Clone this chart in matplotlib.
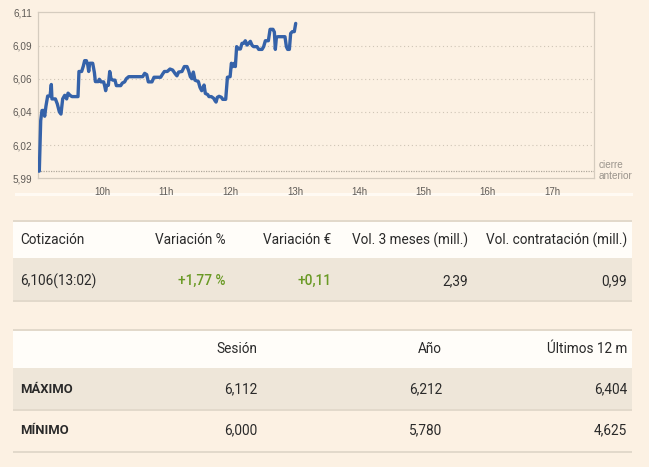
import matplotlib
matplotlib.use("Agg")
import matplotlib.pyplot as plt
from matplotlib.patches import Rectangle

# ---------------- data ----------------
minutes = [0.6, 1.5, 2.8, 4.0, 5.6, 6.5, 7.7, 9.3, 11.5, 12.7, 13.3, 16.5, 18.3, 20.2, 21.7,
           23.3, 25.2, 27.0, 28.3, 30.1, 32.0, 37.6, 38.5, 41.0, 42.6, 43.8, 45.4, 46.7, 47.6,
           48.5, 51.3, 52.9, 53.8, 56.6, 57.5, 59.0, 61.5, 62.5, 63.4, 64.3, 65.9, 67.2, 68.4,
           70.0, 72.1, 73.4, 77.4, 79.0, 81.1, 82.7, 84.9, 97.9, 99.8, 101.7, 103.2, 106.6,
           108.5, 114.7, 116.6, 118.2, 120.9, 123.4, 125.9, 128.4, 129.9, 131.5, 134.6, 136.8,
           139.3, 140.8, 142.4, 143.9, 145.2, 146.7, 149.9, 151.4, 153.0, 155.2, 156.4, 158.6,
           159.8, 162.0, 164.2, 165.4, 166.4, 167.6, 169.2, 171.4, 172.6, 175.4, 177.0, 179.5,
           180.7, 181.9, 183.5, 184.4, 185.6, 187.5, 189.1, 190.6, 192.2, 193.7, 195.3, 196.8,
           198.4, 200.0, 201.5, 204.6, 206.2, 209.3, 210.8, 212.4, 215.2, 216.8, 219.5, 220.8,
           221.7, 222.7, 224.2, 230.7, 232.0, 233.2, 234.8, 236.0, 237.6, 239.4, 240.7]
prices = [6.000, 6.000, 6.035, 6.042, 6.042, 6.038, 6.045, 6.052, 6.052, 6.060, 6.050, 6.050,
          6.0465, 6.041, 6.0395, 6.050, 6.0525, 6.050, 6.054, 6.0525, 6.0516, 6.0516, 6.069,
          6.069, 6.0728, 6.0765, 6.0765, 6.0736, 6.069, 6.0747, 6.0747, 6.0682, 6.062, 6.062,
          6.0636, 6.0618, 6.0618, 6.059, 6.0557, 6.0594, 6.0594, 6.069, 6.064, 6.063, 6.063,
          6.0592, 6.0592, 6.061, 6.0618, 6.064, 6.0654, 6.0654, 6.0677, 6.0668, 6.0618, 6.0618,
          6.065, 6.065, 6.0673, 6.069, 6.069, 6.0707, 6.070, 6.0673, 6.066, 6.0686, 6.069,
          6.0724, 6.0724, 6.0696, 6.0654, 6.064, 6.0686, 6.063, 6.062, 6.058, 6.0557, 6.0596,
          6.0538, 6.053, 6.0516, 6.0516, 6.0504, 6.0488, 6.0478, 6.0511, 6.0518, 6.0511, 6.0497,
          6.0497, 6.065, 6.0654, 6.0747, 6.0724, 6.0747, 6.0724, 6.0862, 6.0846, 6.0846, 6.0885,
          6.0885, 6.0903, 6.0873, 6.0885, 6.0899, 6.0871, 6.0862, 6.0862, 6.0843, 6.0843,
          6.0862, 6.0903, 6.0903, 6.0982, 6.0982, 6.0963, 6.0843, 6.0927, 6.0931, 6.0931,
          6.0862, 6.0843, 6.0843, 6.0954, 6.0966, 6.0966, 6.1023]
prev_close = 6.000
y_ticks = [5.995, 6.018, 6.041, 6.064, 6.087, 6.110]
y_tick_labels = ["5,99", "6,02", "6,04", "6,06", "6,09", "6,11"]
x_ticks = [60, 120, 180, 240, 300, 360, 420, 480]
x_tick_labels = ["10h", "11h", "12h", "13h", "14h", "15h", "16h", "17h"]
x_end = 519

t1_headers = ["Cotización", "Variación %", "Variación €", "Vol. 3 meses (mill.)",
              "Vol. contratación (mill.)"]
t1_values = ["6,106(13:02)", "+1,77 %", "+0,11", "2,39", "0,99"]
t2_headers = ["", "Sesión", "Año", "Últimos 12 m"]
t2_row_labels = ["MÁXIMO", "MÍNIMO"]
t2_rows = [["6,112", "6,212", "6,404"],
           ["6,000", "5,780", "4,625"]]

# ---------------- style ----------------
W, H = 649, 467
BG = "#FCF1E3"
WHITE = "#FFFDF9"
BEIGE = "#EEE6D9"
BORDER = "#E2D9CB"
TEXT = "#2A2A2A"
GREEN = "#6A9A25"
LINE = "#3562A9"
TFONT = ["Roboto", "DejaVu Sans"]
AFONT = ["Liberation Sans", "DejaVu Sans"]

fig = plt.figure(figsize=(W / 100, H / 100), dpi=100, facecolor=BG)

# overlay axes in pixel coordinates for the tables
ov = fig.add_axes([0, 0, 1, 1], zorder=0)
ov.set_xlim(0, W)
ov.set_ylim(H, 0)
ov.axis("off")
ov.patch.set_alpha(0)

def rect(x0, y0, x1, y1, color):
    ov.add_patch(Rectangle((x0, y0), x1 - x0, y1 - y0, facecolor=color,
                           edgecolor="none", linewidth=0))

# separator under chart
rect(15, 193, 633, 195.5, "#FFFAF3")

TL, TR = 13, 632
# table 1
rect(TL, 219.5, TR, 222, BORDER)
rect(TL, 222, TR, 258, WHITE)
rect(TL, 258, TR, 300, BEIGE)
rect(TL, 300, TR, 302, BORDER)
t1_x = [20, 226, 331, 468, 627]
t1_align = ["left", "right", "right", "right", "right"]
t1_colors = [TEXT, GREEN, GREEN, TEXT, TEXT]
for i in range(len(t1_headers)):
    ov.text(t1_x[i], 240, t1_headers[i], ha=t1_align[i], va="center",
            fontsize=9.8, family=TFONT, color=TEXT)
    ov.text(t1_x[i], 281, t1_values[i], ha=t1_align[i], va="center",
            fontsize=9.8, family=TFONT, color=t1_colors[i],
            weight="medium" if t1_colors[i] == GREEN else "normal")

# table 2
rect(TL, 328.5, TR, 331, BORDER)
rect(TL, 331, TR, 368, WHITE)
rect(TL, 368, TR, 409, BEIGE)
rect(TL, 409, TR, 411, BORDER)
rect(TL, 451, TR, 453, BORDER)
t2_x = [20, 257, 442, 627]
for i, h in enumerate(t2_headers):
    if h:
        ov.text(t2_x[i], 349, h, ha="right", va="center", fontsize=9.8,
                family=TFONT, color=TEXT)
row_y = [389.5, 430]
for r, lab in enumerate(t2_row_labels):
    ov.text(t2_x[0], row_y[r], lab, ha="left", va="center", fontsize=9.4,
            family=TFONT, color=TEXT, weight="bold")
    for c, v in enumerate(t2_rows[r]):
        ov.text(t2_x[c + 1], row_y[r], v, ha="right", va="center", fontsize=9.8,
                family=TFONT, color=TEXT)

# ---------------- chart ----------------
L, R, T, B = 37.7, 594, 12.3, 178.3
ax = fig.add_axes([L / W, 1 - B / H, (R - L) / W, (B - T) / H], zorder=2)
ax.set_facecolor(BG)
ax.plot(minutes, prices, color=LINE, lw=2.4, solid_joinstyle="round",
        solid_capstyle="round", zorder=4)
ax.axhline(prev_close, color="#B0A89C", lw=0.9, ls=(0, (1, 1)), zorder=3)
ax.set_xlim(0, x_end)
ax.set_ylim(y_ticks[0], y_ticks[-1])
ax.set_yticks(y_ticks)
ax.set_yticklabels(y_tick_labels)
ax.set_xticks(x_ticks)
ax.set_xticklabels(x_tick_labels)
ax.tick_params(length=0, labelsize=7.2, colors="#5F5B57", pad=4)
ax.tick_params(axis="x", pad=6, labelsize=7.0)
for lbl in ax.get_xticklabels() + ax.get_yticklabels():
    lbl.set_family(AFONT)
for g in y_ticks[1:-1]:
    ax.axhline(g, color="#CFC5B6", lw=0.8, ls=(0, (1, 2.5)), zorder=2)
for s in ax.spines.values():
    s.set_color("#D5CCBF")
    s.set_linewidth(0.9)

ov.text(599, 164.5, "cierre", ha="left", va="center", fontsize=7.2,
        family=AFONT, color="#9A948C")
ov.text(599, 176, "anterior", ha="left", va="center", fontsize=7.2,
        family=AFONT, color="#9A948C")

fig.savefig("out.png", dpi=100, facecolor=BG)
